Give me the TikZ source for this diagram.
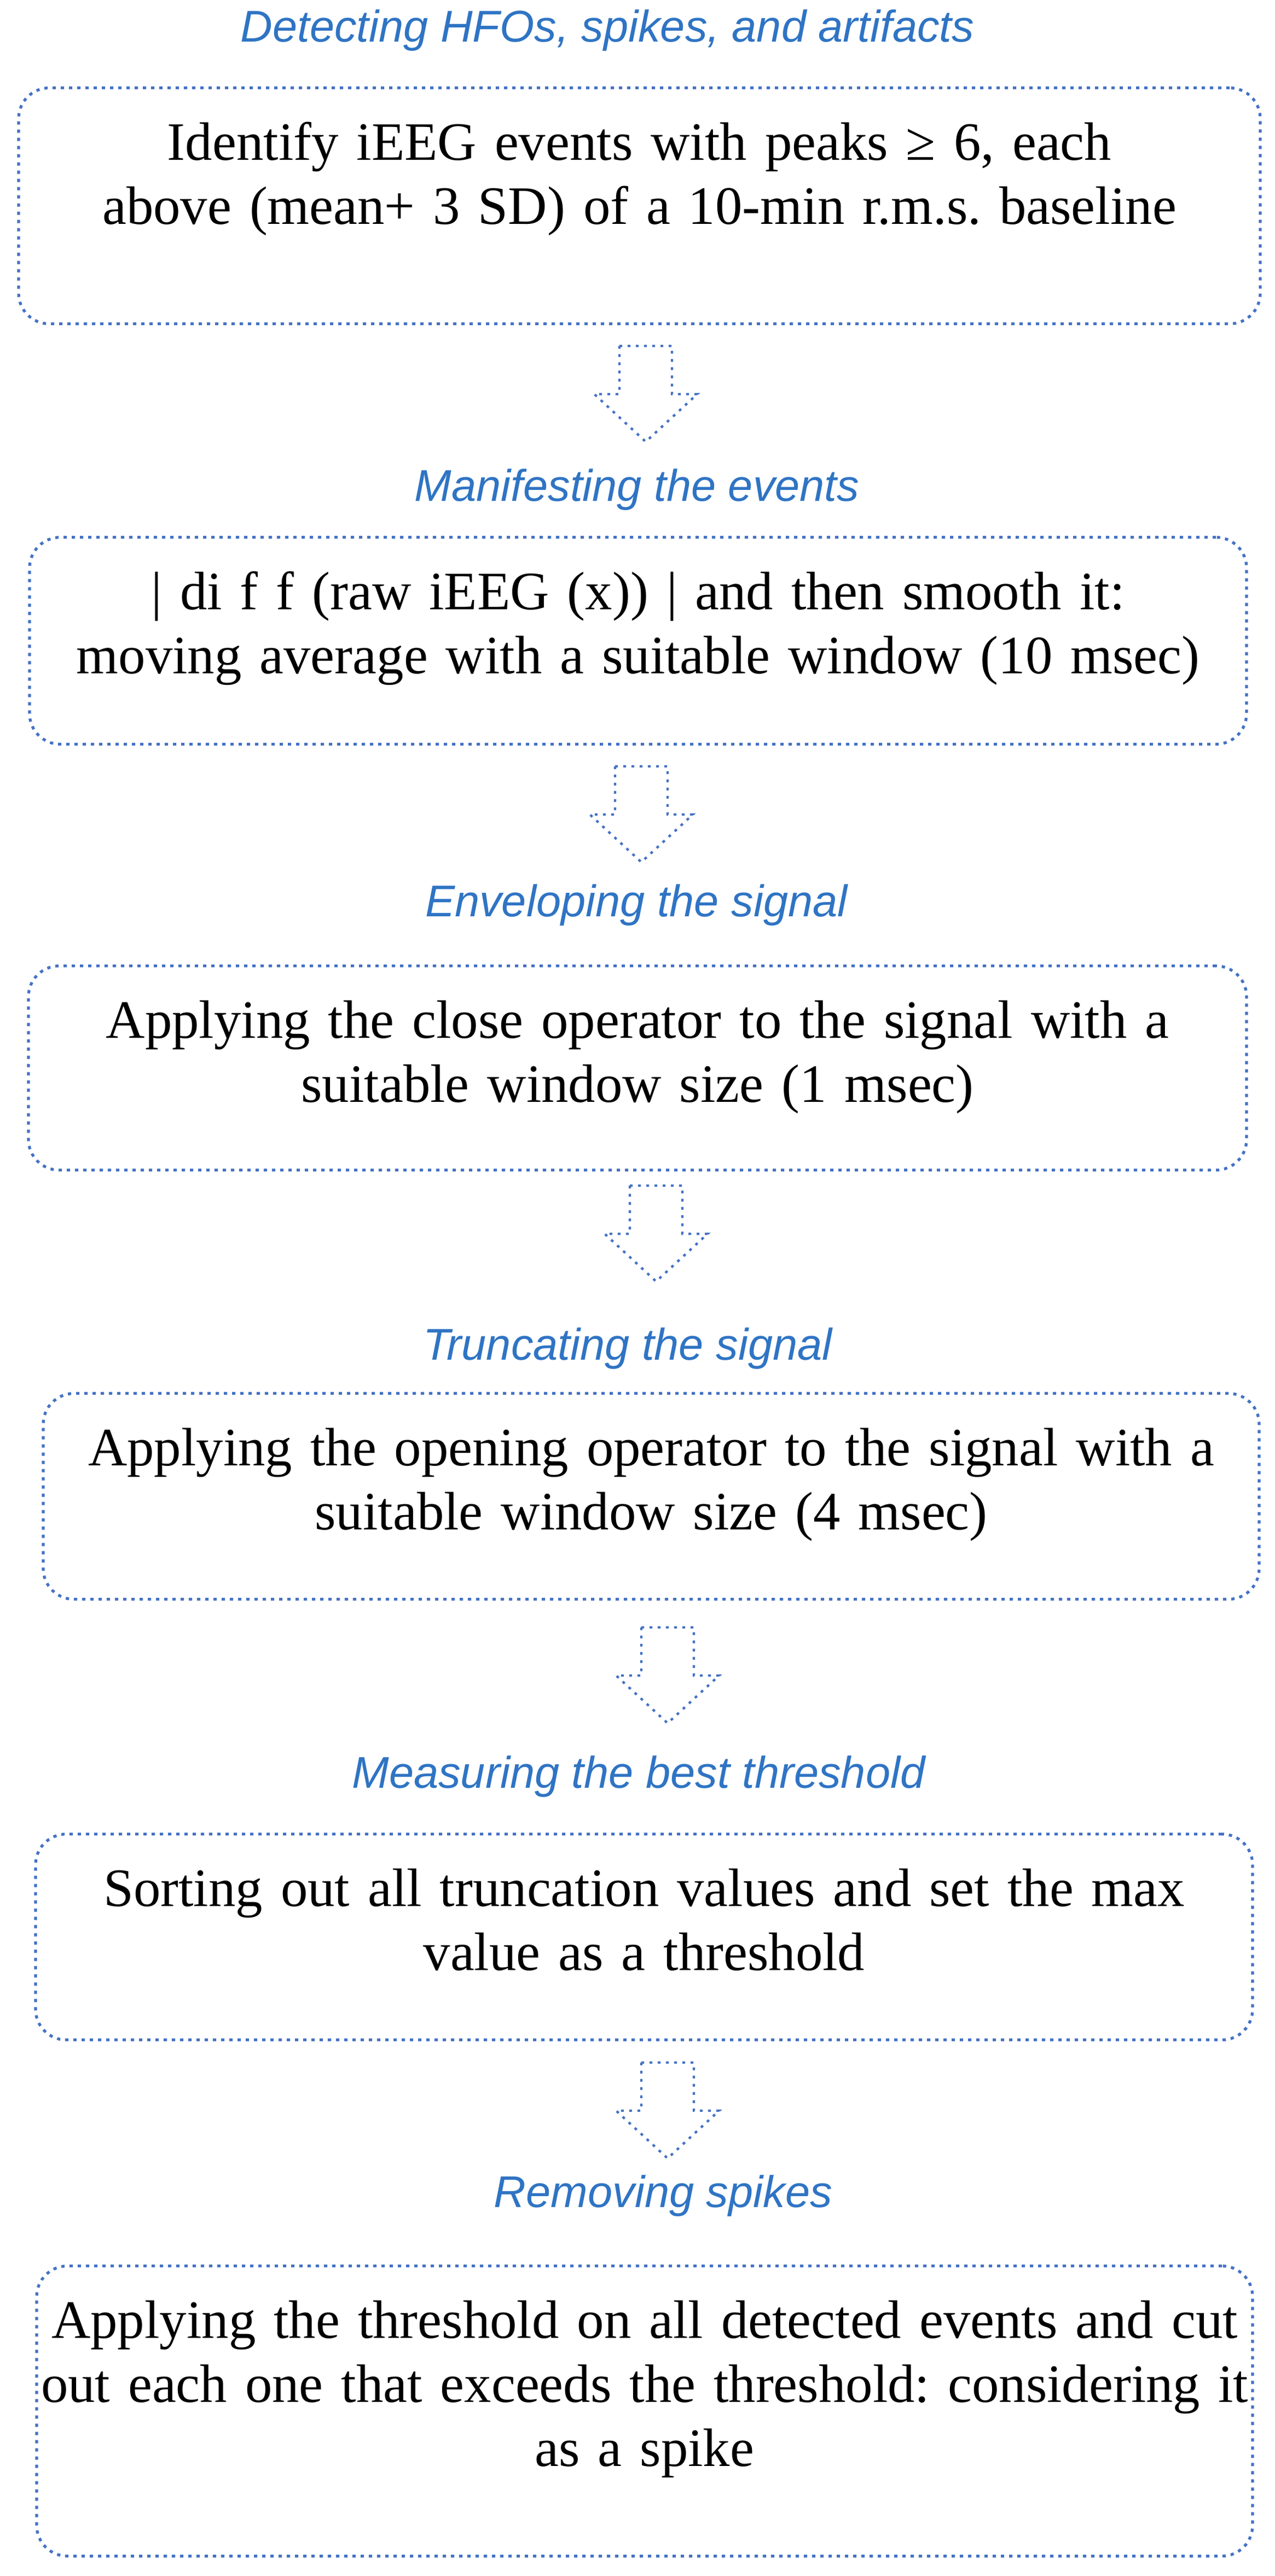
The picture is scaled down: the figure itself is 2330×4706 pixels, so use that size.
\documentclass[tikz,border=0pt]{standalone}
\usepackage{fontspec}
\setmainfont{Liberation Serif}
\setsansfont{Liberation Sans}
\frenchspacing
\usetikzlibrary{positioning}
\definecolor{frameblue}{HTML}{4472C4}
\definecolor{headblue}{HTML}{2F74C4}
\tikzstyle{stage} = [draw=frameblue, line width=1.3pt, dash pattern=on 1.5pt off 2.25pt, rounded corners=14pt, inner sep=0pt, anchor=north, align=center, text height=33pt, font=\fontsize{24.7pt}{29.25pt}\selectfont]
\tikzstyle{heading} = [text=headblue, inner sep=0pt, anchor=base, font=\sffamily\itshape\fontsize{20.3pt}{24pt}\selectfont]
\tikzstyle{flowline} = [draw=frameblue, line width=1.1pt, dash pattern=on 1.25pt off 2.5pt, line join=miter]
\tikzset{pics/downarrow/.style={code={
  \draw[flowline] (-48,0) -- (48,0) -- (48,88) -- (94,88) -- (0,175) -- (-94,88) -- (-48,88) -- cycle;
}}}

\begin{document}
\begin{tikzpicture}[x=0.25pt, y=-0.25pt]
        \useasboundingbox (0,0) rectangle (2330,4706);
        % stage headings
        \node[heading] (h1) at (1110,77) {Detecting HFOs, spikes, and artifacts};
        \node[heading] (h2) at (1164,916) {Manifesting the events};
        \node[heading] (h3) at (1163,1674) {Enveloping the signal};
        \node[heading] (h4) at (1147,2484) {Truncating the signal};
        \node[heading] (h5) at (1167,3266) {Measuring the best threshold};
        \node[heading] (h6) at (1212,4032) {Removing spikes};

        % stage boxes
        \node[stage, text width=567.25pt, text depth=74.75pt] (s1) at (1168.5,158) {Identify iEEG events with peaks ≥ 6, each\\above (mean+ 3 SD) of a 10-min r.m.s. baseline};
        \node[stage, text width=556pt, text depth=61.5pt] (s2) at (1166,979) {| di f f (raw iEEG (x)) | and then smooth it:\\moving average with a suitable window (10 msec)};
        \node[stage, text width=556.5pt, text depth=60.25pt] (s3) at (1165,1762) {Applying the close operator to the signal with a\\suitable window size (1 msec)};
        \node[stage, text width=555.5pt, text depth=61pt] (s4) at (1190,2543) {Applying the opening operator to the signal with a\\suitable window size (4 msec)};
        \node[stage, text width=556pt, text depth=61pt] (s5) at (1177,3348) {Sorting out all truncation values and set the max\\value as a threshold};
        \node[stage, text width=555.5pt, text depth=99.5pt] (s6) at (1178,4137) {\mbox{Applying the threshold on all detected events and cut}\\\mbox{out each one that exceeds the threshold: considering it}\\as a spike};

        % block arrows between stages
        \pic (a1) at (1180,632) {downarrow};
        \pic (a2) at (1172,1400) {downarrow};
        \pic (a3) at (1199,2166) {downarrow};
        \pic (a4) at (1220,2973) {downarrow};
        \pic (a5) at (1220,3768) {downarrow};
    \end{tikzpicture}
\end{document}
